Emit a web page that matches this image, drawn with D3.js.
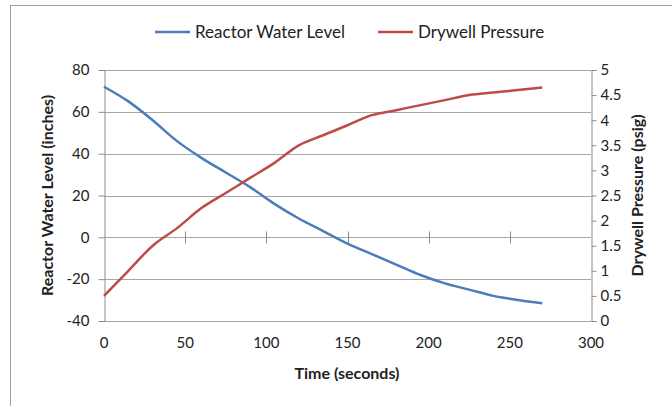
<!DOCTYPE html>
<html>
<head>
<meta charset="utf-8">
<script src="https://cdn.jsdelivr.net/npm/d3@7"></script>
<style>
  body { margin: 0; background: #fff; }
  text { font-family: Lato, "Open Sans", sans-serif; fill: #222; }
</style>
</head>
<body>
<div id="chart"></div>
<script>
// time in seconds
const times = [0, 15, 30, 45, 60, 75, 90, 105, 120, 135, 150, 165, 180, 195, 210, 225, 240, 255, 270];
// reactor water level (inches)
const waterLevel = [72, 65, 56, 46, 38, 31, 24, 16, 9, 3, -3, -8, -13, -18, -22, -25, -28, -30, -31.5];
// drywell pressure (psig)
const pressure = [0.5, 1.0, 1.5, 1.85, 2.25, 2.55, 2.85, 3.15, 3.5, 3.7, 3.9, 4.1, 4.2, 4.3, 4.4, 4.5, 4.55, 4.6, 4.65];

const xTicks = [0, 50, 100, 150, 200, 250, 300];
const leftTicks = [80, 60, 40, 20, 0, -20, -40];
const rightTicks = [0, 0.5, 1, 1.5, 2, 2.5, 3, 3.5, 4, 4.5, 5];

const W = 672, H = 406;
const plot = { left: 104, right: 591, top: 70, bottom: 321 };
const blue = "#4a7ebb", red = "#be4b48";

const svg = d3.select("#chart").append("svg")
    .attr("width", W).attr("height", H);

// outer chart frame
svg.append("rect")
    .attr("x", 10.5).attr("y", 5.5)
    .attr("width", 700).attr("height", 500)
    .attr("fill", "none").attr("stroke", "#a0a0a0");

const x = d3.scaleLinear().domain([0, 300]).range([plot.left, plot.right]);
const yL = d3.scaleLinear().domain([-40, 80]).range([plot.bottom, plot.top]);
const yR = d3.scaleLinear().domain([0, 5]).range([plot.bottom, plot.top]);

// horizontal gridlines
svg.append("g").selectAll("line")
    .data(leftTicks).join("line")
    .attr("x1", plot.left).attr("x2", plot.right)
    .attr("y1", d => Math.round(yL(d)) + 0.5).attr("y2", d => Math.round(yL(d)) + 0.5)
    .attr("stroke", "#a6a6a6").attr("stroke-width", 1);

// left axis
const leftAxis = svg.append("g")
    .attr("transform", `translate(${plot.left + 0.5},0)`)
    .call(d3.axisLeft(yL).tickValues(leftTicks).tickSize(6).tickPadding(9).tickFormat(d => String(d)));

// right axis
const rightAxis = svg.append("g")
    .attr("transform", `translate(${plot.right + 0.5},0)`)
    .call(d3.axisRight(yR).tickValues(rightTicks).tickSize(5).tickPadding(4).tickFormat(d => String(d)));

[leftAxis, rightAxis].forEach(a => {
    a.select(".domain").attr("stroke", "#8c8c8c");
    a.selectAll(".tick line").attr("stroke", "#8c8c8c");
    a.selectAll(".tick text").style("font-size", "15px").attr("fill", "#222");
});

// horizontal axis crossing at 0, tick marks cross the line
const y0 = Math.round(yL(0)) + 0.5;
svg.append("g").selectAll("line")
    .data(xTicks.slice(1, -1)).join("line")
    .attr("x1", d => Math.round(x(d)) + 0.5).attr("x2", d => Math.round(x(d)) + 0.5)
    .attr("y1", y0 - 6).attr("y2", y0 + 6)
    .attr("stroke", "#8c8c8c");

// x labels at the bottom
svg.append("g").selectAll("text")
    .data(xTicks).join("text")
    .attr("x", d => x(d)).attr("y", 348)
    .attr("text-anchor", "middle")
    .style("font-size", "15px")
    .text(d => d);

// series
const line = (ys, yScale) => d3.line()
    .x((d, i) => x(times[i]))
    .y(d => yScale(d))
    .curve(d3.curveMonotoneX)(ys);

svg.append("path").attr("d", line(waterLevel, yL))
    .attr("fill", "none").attr("stroke", blue).attr("stroke-width", 2.5);
svg.append("path").attr("d", line(pressure, yR))
    .attr("fill", "none").attr("stroke", red).attr("stroke-width", 2.5);

// axis titles
svg.append("text")
    .attr("x", 347).attr("y", 379)
    .attr("text-anchor", "middle")
    .style("font-size", "16px").style("font-weight", "bold")
    .text("Time (seconds)");

svg.append("text")
    .attr("transform", `translate(53, ${(plot.top + plot.bottom) / 2}) rotate(-90)`)
    .attr("text-anchor", "middle")
    .style("font-size", "16px").style("font-weight", "bold")
    .text("Reactor Water Level (inches)");

svg.append("text")
    .attr("transform", `translate(643, ${(plot.top + plot.bottom) / 2}) rotate(-90)`)
    .attr("text-anchor", "middle")
    .style("font-size", "16px").style("font-weight", "bold")
    .text("Drywell Pressure (psig)");

// legend
const legend = [
    { name: "Reactor Water Level", color: blue, x: 155 },
    { name: "Drywell Pressure", color: red, x: 378 }
];
const lg = svg.append("g").selectAll("g").data(legend).join("g")
    .attr("transform", d => `translate(${d.x}, 32)`);
lg.append("line").attr("x1", 0).attr("x2", 35)
    .attr("stroke", d => d.color).attr("stroke-width", 2.5);
lg.append("text").attr("x", 40).attr("y", 6)
    .style("font-size", "17px")
    .text(d => d.name);
</script>
</body>
</html>
